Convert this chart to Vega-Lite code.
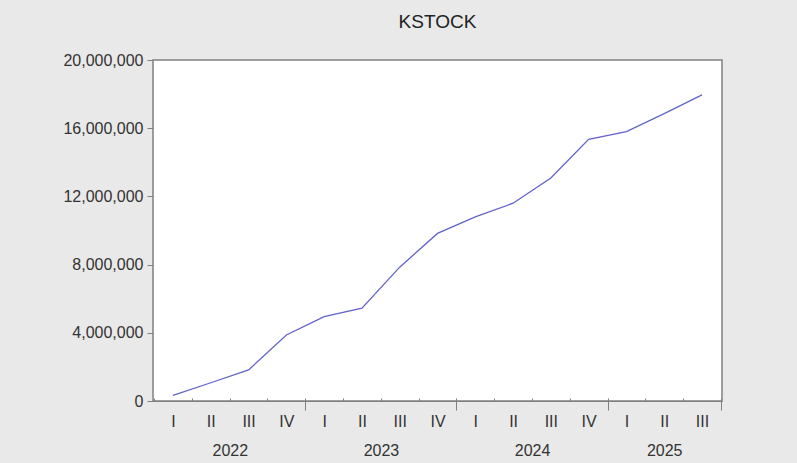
{
  "$schema": "https://vega.github.io/schema/vega-lite/v6.json",
  "autosize": "none",
  "width": 569,
  "height": 341,
  "padding": {"left": 153, "top": 60, "right": 75, "bottom": 62},
  "background": "#e9e9e9",
  "view": {"fill": "white", "stroke": "#808080", "strokeWidth": 1.5},
  "title": {
    "text": "KSTOCK",
    "fontSize": 19,
    "font": "Liberation Sans",
    "fontWeight": "normal",
    "color": "#222222",
    "anchor": "middle",
    "offset": 20
  },
  "data": {
    "values": [
      {"q": "2022-I", "value": 330000},
      {"q": "2022-II", "value": 1070000},
      {"q": "2022-III", "value": 1820000},
      {"q": "2022-IV", "value": 3870000},
      {"q": "2023-I", "value": 4950000},
      {"q": "2023-II", "value": 5440000},
      {"q": "2023-III", "value": 7850000},
      {"q": "2023-IV", "value": 9830000},
      {"q": "2024-I", "value": 10800000},
      {"q": "2024-II", "value": 11600000},
      {"q": "2024-III", "value": 13080000},
      {"q": "2024-IV", "value": 15350000},
      {"q": "2025-I", "value": 15800000},
      {"q": "2025-II", "value": 16850000},
      {"q": "2025-III", "value": 17950000}
    ]
  },
  "config": {
    "axis": {
      "labelFont": "Liberation Sans",
      "labelFontSize": 16,
      "labelColor": "#333333",
      "tickColor": "#808080",
      "domainColor": "#808080",
      "grid": false,
      "title": null
    }
  },
  "layer": [
    {
      "mark": {"type": "line", "color": "#6262cc", "strokeWidth": 1.3},
      "encoding": {
        "x": {
          "field": "q",
          "type": "ordinal",
          "sort": null,
          "scale": {"type": "band", "paddingInner": 0, "paddingOuter": 0.03},
          "axis": {
            "orient": "bottom",
            "labelExpr": "split(datum.value,'-')[1]",
            "labelAngle": 0,
            "tickBand": "extent",
            "tickSize": -3,
            "labelPadding": 15,
            "domain": true
          }
        },
        "y": {
          "field": "value",
          "type": "quantitative",
          "scale": {"domain": [0, 20000000], "nice": false},
          "axis": {
            "values": [0, 4000000, 8000000, 12000000, 16000000, 20000000],
            "format": ",d",
            "tickSize": 6,
            "labelPadding": 4,
            "domain": false
          }
        }
      }
    },
    {
      "mark": {"type": "line", "strokeOpacity": 0},
      "encoding": {
        "x": {
          "field": "q",
          "type": "ordinal",
          "sort": null,
          "scale": {"type": "band", "paddingInner": 0, "paddingOuter": 0.03},
          "axis": {
            "orient": "bottom",
            "labelExpr": "split(datum.value,'-')[1]=='II' ? split(datum.value,'-')[0] : ''",
            "labelAngle": 0,
            "ticks": true,
            "tickBand": "extent",
            "tickSize": 9,
            "tickOpacity": {"condition": {"test": "split(datum.value,'-')[1]=='IV' || datum.value=='2025-III'", "value": 1}, "value": 0},
            "domain": false,
            "labelPadding": 32,
            "labelOffset": {"condition": {"test": "split(datum.value,'-')[0]=='2025'", "value": 0}, "value": 19}
          }
        },
        "y": {
          "field": "value",
          "type": "quantitative",
          "scale": {"domain": [0, 20000000], "nice": false},
          "axis": {
            "values": [0, 4000000, 8000000, 12000000, 16000000, 20000000],
            "format": ",d",
            "tickSize": 6,
            "labelPadding": 4,
            "domain": false
          }
        }
      }
    }
  ],
  "resolve": {"axis": {"x": "independent"}}
}
